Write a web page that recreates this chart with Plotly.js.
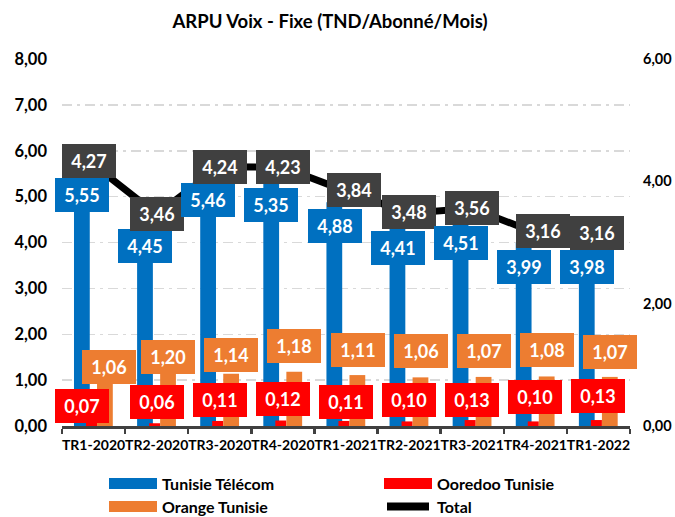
<!DOCTYPE html>
<html>
<head>
<meta charset="utf-8">
<script src="https://cdn.plot.ly/plotly-3.0.1.min.js"></script>
<style>
html,body{margin:0;padding:0;background:#fff;}
#chart{width:675px;height:517px;}
</style>
</head>
<body>
<div id="chart"></div>
<script>
// ---- Data ----
const categories = ['TR1-2020','TR2-2020','TR3-2020','TR4-2020','TR1-2021','TR2-2021','TR3-2021','TR4-2021','TR1-2022'];
const tunisieTelecom = [5.55, 4.45, 5.46, 5.35, 4.88, 4.41, 4.51, 3.99, 3.98];
const ooredooTunisie = [0.07, 0.06, 0.11, 0.12, 0.11, 0.10, 0.13, 0.10, 0.13];
const orangeTunisie = [1.06, 1.20, 1.14, 1.18, 1.11, 1.06, 1.07, 1.08, 1.07];
const total = [4.27, 3.46, 4.24, 4.23, 3.84, 3.48, 3.56, 3.16, 3.16];
const seriesNames = ['Tunisie Télécom', 'Ooredoo Tunisie', 'Orange Tunisie', 'Total'];
const leftTicks = [0,1,2,3,4,5,6,7,8];
const rightTicks = [0,2,4,6];

// ---- Styles / label nudges (pixels) ----
const C_BLUE = '#0070C0', C_RED = '#FF0000', C_ORANGE = '#ED7D31', C_TOTAL = '#404040';
const FONT = 'Lato, "Open Sans", sans-serif';
const totalDx = [-4.6, 0, 0, 0, 8, 0, 0, 7.7, -1.4];
const totalDy = [3.8, 0, 0, 0, 1.6, 1, 0, 2, 0];
const orangeDx = [15.5, 11.5, 11.5, 11.5, 11.5, 11.5, 11.5, 11.5, 11.5];
const orangeDy = [10.4, 14, 18.7, 26, 25.5, 26, 26.4, 26, 25.4];
const redDx = [-11.6, 0, 0, 0, 0, 0, 0, 0, 0];
const redDy = [16.8, 21.2, 21, 21.5, 19, 21, 20.5, 24.4, 24];

const fmt = v => v.toFixed(2).replace('.', ',');

const traces = [
  {type:'bar', name:seriesNames[0], x:categories, y:tunisieTelecom, marker:{color:C_BLUE}, width:0.25, offset:-0.31, hoverinfo:'skip'},
  {type:'bar', name:seriesNames[1], x:categories, y:ooredooTunisie, marker:{color:C_RED}, width:0.175, offset:-0.12, hoverinfo:'skip'},
  {type:'bar', name:seriesNames[2], x:categories, y:orangeTunisie, marker:{color:C_ORANGE}, width:0.25, offset:0.055, hoverinfo:'skip'},
  {type:'scatter', mode:'lines', name:seriesNames[3], x:categories, y:total, yaxis:'y2', line:{color:'#000000', width:7}, hoverinfo:'skip'}
];

const M = {l:62, r:45, t:59, b:91};
const W = 675, H = 517;
const pw = W - M.l - M.r, ph = H - M.t - M.b;
const px2x = px => (px - M.l) / pw;
const py2y = py => (H - M.b - py) / ph;

const annotations = [];
function box(x, y, yref, dx, dy, color, text){
  annotations.push({x:x, y:y, xref:'x', yref:yref, xshift:dx, yshift:dy,
    text:text, showarrow:false, bgcolor:color, width:54, height:34,
    borderpad:0, borderwidth:0, align:'center', valign:'middle',
    font:{family:FONT, size:18, weight:700, color:'#ffffff'}});
}
categories.forEach((c,i)=>{
  box(c, tunisieTelecom[i], 'y', -11.5, -24, C_BLUE, fmt(tunisieTelecom[i]));
  box(c, orangeTunisie[i], 'y', orangeDx[i], orangeDy[i], C_ORANGE, fmt(orangeTunisie[i]));
  box(c, ooredooTunisie[i], 'y', redDx[i], redDy[i], C_RED, fmt(ooredooTunisie[i]));
  box(c, total[i], 'y2', totalDx[i], totalDy[i], C_TOTAL, fmt(total[i]));
});

// ---- custom legend ----
const shapes = [];
const legendItems = [
  {name:seriesNames[0], color:C_BLUE, kind:'rect', x:109, y:483.5},
  {name:seriesNames[1], color:C_RED, kind:'rect', x:384, y:483.5},
  {name:seriesNames[2], color:C_ORANGE, kind:'rect', x:109, y:506.5},
  {name:seriesNames[3], color:'#000000', kind:'line', x:384, y:506.5}
];
legendItems.forEach(it=>{
  if(it.kind === 'rect'){
    shapes.push({type:'rect', xref:'paper', yref:'paper', x0:px2x(it.x), x1:px2x(it.x+48),
      y0:py2y(it.y+5.5), y1:py2y(it.y-5.5), fillcolor:it.color, line:{width:0}});
  } else {
    shapes.push({type:'line', xref:'paper', yref:'paper', x0:px2x(it.x+3), x1:px2x(it.x+45),
      y0:py2y(it.y), y1:py2y(it.y), line:{color:it.color, width:8}});
  }
  annotations.push({xref:'paper', yref:'paper', x:px2x(it.x+51), y:py2y(it.y), xanchor:'left', yanchor:'middle',
    text:it.name, showarrow:false, font:{family:FONT, size:16, weight:700, color:'#000000'}});
});

const layout = {
  width:W, height:H,
  margin:M,
  paper_bgcolor:'#ffffff', plot_bgcolor:'#ffffff',
  separators:',.',
  showlegend:false,
  barmode:'overlay',
  title:{text:'ARPU Voix - Fixe (TND/Abonné/Mois)', xref:'container', yref:'container',
    x:330/W, xanchor:'center', y:1-22/H, yanchor:'middle',
    font:{family:FONT, size:18.5, weight:700, color:'#000000'}},
  xaxis:{type:'category', range:[-0.5, 8.5], showgrid:false, showline:true, linecolor:'#404040', linewidth:3,
    ticks:'outside', tickson:'boundaries', ticklen:5, tickwidth:2.5, tickcolor:'#404040',
    tickangle:0, ticklabelstandoff:4,
    tickfont:{family:FONT, size:14, weight:700, color:'#000000'}, fixedrange:true},
  yaxis:{range:[0,8], tickvals:leftTicks, tickformat:'.2f', showgrid:true, gridcolor:'#d9d9d9', gridwidth:1.5,
    griddash:'10px,5px,3px,5px', zeroline:false, showline:false, ticks:'', ticklabelstandoff:14,
    tickfont:{family:FONT, size:16.5, weight:700, color:'#000000'}, fixedrange:true},
  yaxis2:{range:[0,6], tickvals:rightTicks, tickformat:'.2f', overlaying:'y', side:'right', showgrid:false,
    zeroline:false, showline:false, ticks:'', ticklabelstandoff:12,
    tickfont:{family:FONT, size:14.5, weight:700, color:'#000000'}, fixedrange:true},
  annotations:annotations,
  shapes:shapes
};

Plotly.newPlot('chart', traces, layout, {staticPlot:true, displayModeBar:false});
</script>
</body>
</html>
